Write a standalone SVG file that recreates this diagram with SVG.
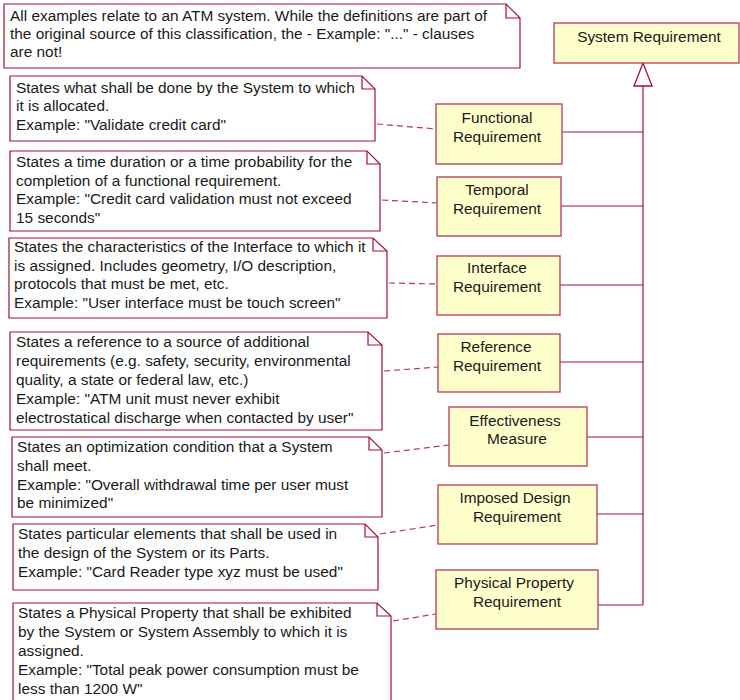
<svg xmlns="http://www.w3.org/2000/svg" width="740" height="700" viewBox="0 0 740 700">
<style>
.note{fill:#ffffff;stroke:#a0103c;stroke-width:1.2}
.fold{fill:none;stroke:#a0103c;stroke-width:1.2}
.box{fill:#ffffcc;stroke:#b8385e;stroke-width:1.3}
.t{font-family:"Liberation Sans",Arial,sans-serif;font-size:15.4px;fill:#1a1a1a}
.c{text-anchor:middle}
.link{fill:none;stroke:#a0103c;stroke-width:1.2}
.dash{fill:none;stroke:#b8385e;stroke-width:1.2;stroke-dasharray:6,4}
</style>
<rect width="740" height="700" fill="#ffffff"/>

<g id="connectors">
  <line class="link" x1="643" y1="86" x2="643" y2="605" stroke-width="2"/>
  <polygon points="643,63 634,86 652,86" fill="#ffffff" stroke="#a0103c" stroke-width="1.3"/>
  <line class="link" x1="562" y1="132" x2="643" y2="132"/>
  <line class="link" x1="561" y1="206" x2="643" y2="206"/>
  <line class="link" x1="560" y1="285" x2="643" y2="285"/>
  <line class="link" x1="560" y1="362" x2="643" y2="362"/>
  <line class="link" x1="587" y1="437" x2="643" y2="437"/>
  <line class="link" x1="597" y1="514" x2="643" y2="514"/>
  <line class="link" x1="598" y1="605" x2="643" y2="605"/>
  <line class="dash" x1="377" y1="124" x2="436" y2="129"/>
  <line class="dash" x1="382" y1="200" x2="437" y2="203"/>
  <line class="dash" x1="389" y1="283" x2="437" y2="284"/>
  <line class="dash" x1="384" y1="371" x2="438" y2="367"/>
  <line class="dash" x1="384" y1="453" x2="449" y2="445"/>
  <line class="dash" x1="380" y1="534" x2="438" y2="525"/>
  <line class="dash" x1="393" y1="621" x2="436" y2="614"/>
</g>

<g id="note-intro">
  <path class="note" d="M4,4 H506 L520,18 V68 H4 Z"/>
  <path class="fold" d="M506,4 V18 H520"/>
  <text class="t" x="10" y="21">All examples relate to an ATM system. While the definitions are part of</text>
  <text class="t" x="10" y="39">the original source of this classification,  the - Example: "..." - clauses</text>
  <text class="t" x="10" y="57">are not!</text>
</g>

<g id="system-requirement">
  <rect class="box" x="554" y="23" width="185" height="40"/>
  <text class="t c" x="649" y="42">System Requirement</text>
</g>

<g id="note-functional">
  <path class="note" d="M10,76 H362 L375,89 V141 H10 Z"/>
  <path class="fold" d="M362,76 V89 H375"/>
  <text class="t" x="16" y="93">States what shall be done by the System to which</text>
  <text class="t" x="16" y="111">it is allocated.</text>
  <text class="t" x="16" y="130">Example: "Validate credit card"</text>
</g>
<g id="functional-requirement">
  <rect class="box" x="436" y="104" width="126" height="60"/>
  <text class="t c" x="497" y="123">Functional</text>
  <text class="t c" x="497" y="142">Requirement</text>
</g>

<g id="note-temporal">
  <path class="note" d="M10,151 H367 L380,164 V231 H10 Z"/>
  <path class="fold" d="M367,151 V164 H380"/>
  <text class="t" x="16" y="167">States a time duration or a time probability for the</text>
  <text class="t" x="16" y="186">completion of a functional requirement.</text>
  <text class="t" x="16" y="204">Example: "Credit card validation must not exceed</text>
  <text class="t" x="16" y="223">15 seconds"</text>
</g>
<g id="temporal-requirement">
  <rect class="box" x="437" y="177" width="124" height="59"/>
  <text class="t c" x="497" y="195">Temporal</text>
  <text class="t c" x="497" y="214">Requirement</text>
</g>

<g id="note-interface">
  <path class="note" d="M9,238 H373 L387,251 V318 H9 Z"/>
  <path class="fold" d="M373,238 V251 H387"/>
  <text class="t" x="14" y="252">States the characteristics of the Interface to which it</text>
  <text class="t" x="14" y="271">is assigned. Includes geometry, I/O description,</text>
  <text class="t" x="14" y="289">protocols that must be met, etc.</text>
  <text class="t" x="14" y="308">Example: "User interface must be touch screen"</text>
</g>
<g id="interface-requirement">
  <rect class="box" x="437" y="256" width="123" height="59"/>
  <text class="t c" x="497" y="273">Interface</text>
  <text class="t c" x="497" y="292">Requirement</text>
</g>

<g id="note-reference">
  <path class="note" d="M10,332 H368 L382,345 V430 H10 Z"/>
  <path class="fold" d="M368,332 V345 H382"/>
  <text class="t" x="16" y="347">States a reference to a source of additional</text>
  <text class="t" x="16" y="366">requirements (e.g. safety, security, environmental</text>
  <text class="t" x="16" y="385">quality, a state or federal law, etc.)</text>
  <text class="t" x="16" y="404">Example: "ATM unit must never exhibit</text>
  <text class="t" x="16" y="423">electrostatical discharge when contacted by user"</text>
</g>
<g id="reference-requirement">
  <rect class="box" x="438" y="334" width="122" height="58"/>
  <text class="t c" x="496" y="352">Reference</text>
  <text class="t c" x="497" y="371">Requirement</text>
</g>

<g id="note-effectiveness">
  <path class="note" d="M12,437 H369 L382,450 V517 H12 Z"/>
  <path class="fold" d="M369,437 V450 H382"/>
  <text class="t" x="17" y="452">States an optimization condition that a System</text>
  <text class="t" x="17" y="471">shall meet.</text>
  <text class="t" x="17" y="490">Example: "Overall withdrawal time per user must</text>
  <text class="t" x="17" y="508">be minimized"</text>
</g>
<g id="effectiveness-measure">
  <rect class="box" x="449" y="407" width="138" height="59"/>
  <text class="t c" x="515" y="426">Effectiveness</text>
  <text class="t c" x="517" y="444">Measure</text>
</g>

<g id="note-imposed-design">
  <path class="note" d="M13,524 H365 L378,537 V590 H13 Z"/>
  <path class="fold" d="M365,524 V537 H378"/>
  <text class="t" x="18" y="539">States particular elements that shall be used in</text>
  <text class="t" x="18" y="558">the design of the System or its Parts.</text>
  <text class="t" x="18" y="577">Example: "Card Reader type xyz must be used"</text>
</g>
<g id="imposed-design-requirement">
  <rect class="box" x="438" y="485" width="159" height="59"/>
  <text class="t c" x="515" y="503">Imposed Design</text>
  <text class="t c" x="517" y="522">Requirement</text>
</g>

<g id="note-physical">
  <path class="note" d="M13,603 H377 L391,616 V703 H13 Z"/>
  <path class="fold" d="M377,603 V616 H391"/>
  <text class="t" x="18" y="618">States a Physical Property that shall be exhibited</text>
  <text class="t" x="18" y="637">by the System or System Assembly to which it is</text>
  <text class="t" x="18" y="656">assigned.</text>
  <text class="t" x="18" y="675">Example: "Total peak power consumption must be</text>
  <text class="t" x="18" y="694">less than 1200 W"</text>
</g>
<g id="physical-property-requirement">
  <rect class="box" x="436" y="570" width="162" height="59"/>
  <text class="t c" x="514" y="588">Physical Property</text>
  <text class="t c" x="517" y="607">Requirement</text>
</g>
</svg>
